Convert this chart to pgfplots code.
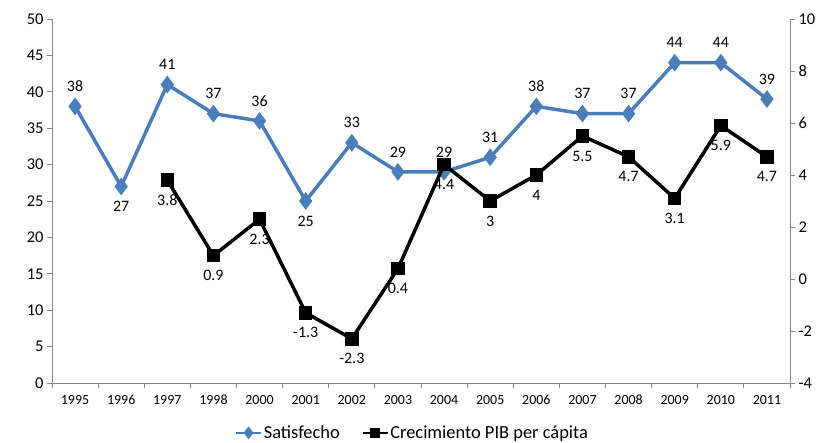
\documentclass[border=0pt]{standalone}
\usepackage{pgfplots}
\pgfplotsset{compat=1.18}
\usepackage{pgfplotstable}
\usepackage{fontspec}
\setmainfont{Carlito}
\definecolor{satblue}{HTML}{4A7EBB}
\definecolor{axgray}{HTML}{868686}

% Satisfecho (left axis), dy: +1 label above, -1 below
\pgfplotstableread{
x y lab dy
0 38 38 1
1 27 27 -1
2 41 41 1
3 37 37 1
4 36 36 1
5 25 25 -1
6 33 33 1
7 29 29 1
8 29 29 1
9 31 31 1
10 38 38 1
11 37 37 1
12 37 37 1
13 44 44 1
14 44 44 1
15 39 39 1
}\sat

% Crecimiento PIB per capita (right axis)
\pgfplotstableread{
x y lab dy
2 3.8 3.8 -1
3 0.9 0.9 -1
4 2.3 2.3 -1
5 -1.3 -1.3 -1
6 -2.3 -2.3 -1
7 0.4 0.4 -1
8 4.4 4.4 -1
9 3 3 -1
10 4 4 -1
11 5.5 5.5 -1
12 4.7 4.7 -1
13 3.1 3.1 -1
14 5.9 5.9 -1
15 4.7 4.7 -1
}\pib

\pgfplotsset{
  base/.style={
    scale only axis, width=738bp, height=364bp,
    xmin=-0.5, xmax=15.5,
    axis line style={axgray, line width=0.8pt},
    tick style={axgray, line width=0.8pt},
    tick align=outside,
    major tick length=5bp,
    /pgf/number format/assume math mode=true,
    yticklabel style={font=\fontsize{16.5}{18}\selectfont, text=black},
    clip=false,
  },
  lbl/.style={
    point meta=explicit symbolic,
    nodes near coords,
    nodes near coords align={center},
    visualization depends on={\thisrow{dy} \as \dy},
    every node near coord/.append style={font=\fontsize{16}{18}\selectfont, text=black, anchor=center, yshift=\dy*20bp},
  },
}

\begin{document}
\begin{tikzpicture}
\useasboundingbox (-52bp,-60bp) rectangle (769bp,383bp);
\begin{axis}[base,
  ymin=0, ymax=50, ytick={0,5,...,50},
  axis y line*=left, axis x line*=bottom,
  xtick={-0.5,0.5,...,15.5},
  x tick label as interval,
  xticklabels={1995,1996,1997,1998,2000,2001,2002,2003,2004,2005,2006,2007,2008,2009,2010,2011},
  xticklabel style={font=\fontsize{14}{16}\selectfont, text=black, yshift=-4bp,
    text height=9bp, text depth=0bp, anchor=north},
]
\addplot[satblue, line width=3.5pt, mark=diamond*, mark size=6bp, mark options={solid}, lbl]
  table[x=x, y=y, meta=lab] {\sat};
\end{axis}
\begin{axis}[base,
  ymin=-4, ymax=10, ytick={-4,-2,...,10},
  axis y line*=right, axis x line=none,
  legend columns=2,
  legend style={at={(0.488,-0.137)}, anchor=center, draw=none, fill=none,
    font=\fontsize{18.5}{20}\selectfont, column sep=0bp,
    /tikz/every even column/.append style={column sep=20bp},
    nodes={inner xsep=1.5bp}},
  legend image code/.code={\draw[mark repeat=2, mark phase=2, #1] plot coordinates {(0bp,0bp) (12.5bp,0bp) (25bp,0bp)};},
]
\addlegendimage{satblue, line width=2.5pt, mark=diamond*, mark size=4.5bp}
\addlegendentry{Satisfecho}
\addplot[black, line width=3.5pt, mark=square*, mark size=5bp, lbl, forget plot]
  table[x=x, y=y, meta=lab] {\pib};
\addlegendimage{black, line width=2.5pt, mark=square*, mark size=3.5bp}
\addlegendentry{Crecimiento PIB per cápita}
\end{axis}
\end{tikzpicture}
\end{document}
